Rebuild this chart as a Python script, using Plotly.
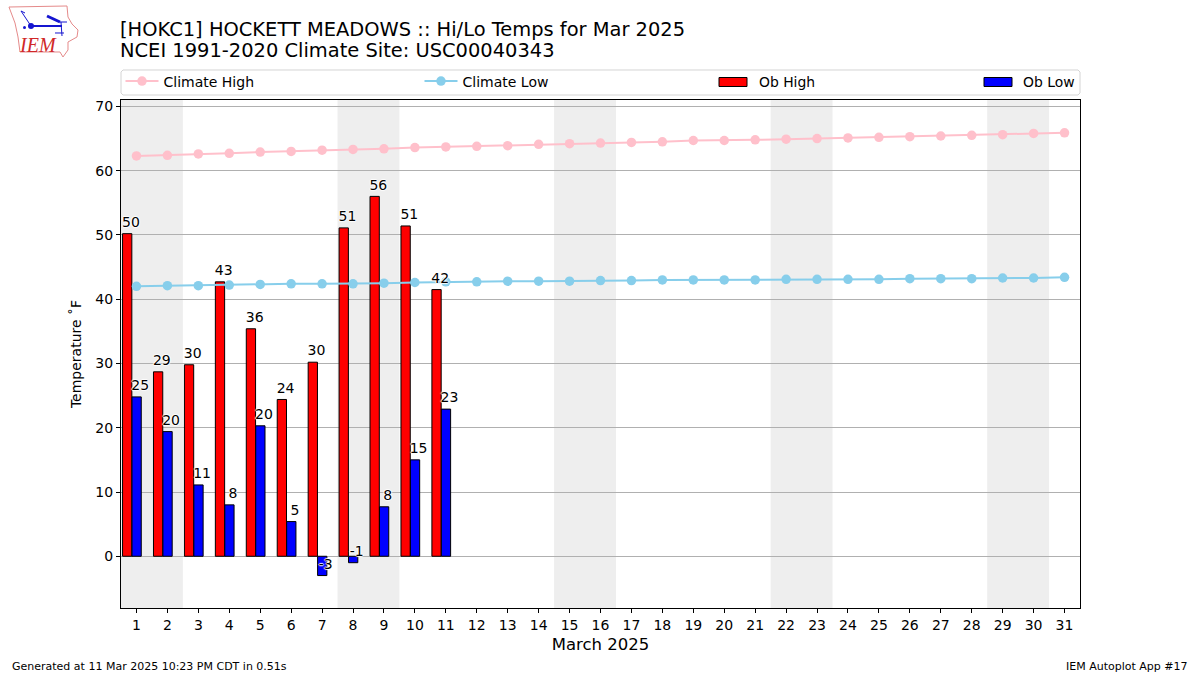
import plotly.graph_objects as go

days = list(range(1, 32))
obs_days = list(range(1, 12))
climate_high = [62.3,62.4,62.6,62.7,62.9,63.0,63.2,63.3,63.4,63.6,63.7,63.8,63.9,64.1,64.2,64.3,
                64.4,64.5,64.7,64.7,64.8,64.9,65.0,65.1,65.2,65.3,65.4,65.5,65.6,65.8,65.9]
climate_low = [42.0,42.1,42.1,42.2,42.3,42.4,42.4,42.4,42.5,42.6,42.7,42.7,42.8,42.8,42.8,42.9,
               42.9,43.0,43.0,43.0,43.0,43.1,43.1,43.1,43.1,43.2,43.2,43.2,43.3,43.3,43.4]
ob_high = [50.2,28.7,29.8,42.7,35.4,24.4,30.2,51.1,56.0,51.4,41.5]
ob_low = [24.8,19.4,11.1,8.0,20.3,5.4,-3.0,-1.0,7.7,15.0,22.9]
ob_high_labels = ["50","29","30","43","36","24","30","51","56","51","42"]
ob_low_labels = ["25","20","11","8","20","5","-3","-1","8","15","23"]
weekends = [(0.5,2.5),(7.5,9.5),(14.5,16.5),(21.5,23.5),(28.5,30.5)]

L, R, T, B = 121, 1080, 100, 608
FONT = "DejaVu Sans"
def px(x): return (x - L) / (R - L)
def py(y): return (B - y) / (B - T)
def path(points, close=False):
    s = "M" + " L".join(f"{px(a):.5f},{py(b):.5f}" for a, b in points)
    return s + (" Z" if close else "")

fig = go.Figure()
fig.add_trace(go.Scatter(x=days, y=climate_high, mode="lines+markers", name="Climate High",
                         line=dict(color="pink", width=2), marker=dict(color="pink", size=9.5), legend="legend"))
fig.add_trace(go.Scatter(x=days, y=climate_low, mode="lines+markers", name="Climate Low",
                         line=dict(color="skyblue", width=2), marker=dict(color="skyblue", size=9.5), legend="legend2"))
fig.add_trace(go.Bar(x=obs_days, y=ob_high, name="Ob High", width=0.3, offset=-0.45, showlegend=False,
                     marker=dict(color="red", line=dict(color="black", width=1))))
fig.add_trace(go.Bar(x=obs_days, y=ob_low, name="Ob Low", width=0.3, offset=-0.145, showlegend=False,
                     marker=dict(color="blue", line=dict(color="black", width=1))))
halo = "white 1px 0px 1px, white -1px 0px 1px, white 0px 1px 1px, white 0px -1px 1px"
fig.add_trace(go.Scatter(x=[d - 0.18 for d in obs_days], y=[v + 0.5 for v in ob_high], mode="text",
                         text=ob_high_labels, textposition="top center", showlegend=False,
                         textfont=dict(family=FONT, size=14, color="black", shadow=halo)))
fig.add_trace(go.Scatter(x=[d + 0.12 for d in obs_days], y=[v + 0.5 for v in ob_low], mode="text",
                         text=ob_low_labels, textposition="top center", showlegend=False,
                         textfont=dict(family=FONT, size=14, color="black", shadow=halo)))

shapes = [dict(type="rect", xref="x", yref="paper", x0=a, x1=b, y0=0, y1=1, fillcolor="#eeeeee",
               line_width=0, layer="below") for a, b in weekends]
# legend frame
shapes.append(dict(type="path", xref="paper", yref="paper", layer="above",
                   path=path([(123,70),(1078,70),(1080,72),(1080,93),(1078,95),(123,95),(121,93),(121,72)], True),
                   line=dict(color="#d4d4d4", width=1), fillcolor="white"))
# bar legend swatches
for x0, colour in [(719, "red"), (984, "blue")]:
    shapes.append(dict(type="rect", xref="paper", yref="paper", layer="above",
                       x0=px(x0), x1=px(x0 + 28), y0=py(86.5), y1=py(77.5),
                       fillcolor=colour, line=dict(color="black", width=1)))
# logo sketch
shapes.append(dict(type="path", xref="paper", yref="paper",
                   path=path([(9,7),(67,6),(68,17),(72,24),(78,30),(77,37),(68,42),(68,50),(63,57),
                              (60,52),(20,52),(18,37),(15,23)], True),
                   line=dict(color="#e58a8a", width=1), fillcolor="white"))
BLUE = "#1515d0"
for pts, w in [([(31,26),(62,26)],2), ([(21,11),(31,26)],1), ([(21,11),(25,13)],1), ([(47,16),(60,22)],3),
               ([(60,22),(67,22)],1), ([(61,22),(62,36)],1), ([(55,33),(64,33)],1)]:
    shapes.append(dict(type="path", xref="paper", yref="paper", path=path(pts), line=dict(color=BLUE, width=w)))
shapes.append(dict(type="circle", xref="paper", yref="paper", x0=px(28), x1=px(34), y0=py(29), y1=py(23),
                   fillcolor=BLUE, line_width=0))
shapes.append(dict(type="circle", xref="paper", yref="paper", x0=px(23), x1=px(26), y0=py(29), y1=py(26),
                   fillcolor=BLUE, line_width=0))

def note(text, x, y, size, anchor="left", family=FONT, color="black"):
    return dict(text=text, x=px(x), y=py(y), xref="paper", yref="paper", showarrow=False,
                font=dict(family=family, size=size, color=color), xanchor=anchor, yanchor="middle")

annotations = [
    note("<i>IEM</i>", 37.5, 45, 20, "center", "Liberation Serif", "#d02828"),
    note("NCEI 1991-2020 Climate Site: USC00040343", 118, 51, 19.45),
    note("Ob High", 757, 81.5, 13.9),
    note("Ob Low", 1021, 81.5, 13.9),
    note("Generated at 11 Mar 2025 10:23 PM CDT in 0.51s", 10, 666, 11),
    note("IEM Autoplot App #17", 1190, 666, 11, "right"),
]

def legend(x):
    return dict(x=px(x), y=py(81.5), xref="paper", yref="paper", xanchor="left", yanchor="middle",
                bgcolor="rgba(0,0,0,0)", borderwidth=0, font=dict(family=FONT, size=14, color="black"),
                itemwidth=33, tracegroupgap=0)

fig.update_layout(
    width=1200, height=675, autosize=False,
    margin=dict(l=L, r=1200 - R, t=T, b=675 - B, autoexpand=False),
    paper_bgcolor="white", plot_bgcolor="white",
    font=dict(family=FONT, size=14, color="black"),
    barmode="overlay",
    title=dict(text="[HOKC1] HOCKETT MEADOWS :: Hi/Lo Temps for Mar 2025",
               x=120 / 1200, xref="container", xanchor="left", y=1 - 29 / 675, yref="container", yanchor="middle",
               font=dict(family=FONT, size=19.45, color="black")),
    xaxis=dict(range=[0.5, 31.5], tickmode="array", tickvals=days, ticktext=[str(d) for d in days],
               showgrid=False, zeroline=False, showline=True, mirror=True, linecolor="black", linewidth=1,
               ticks="outside", ticklen=4, tickcolor="black", tickfont=dict(family=FONT, size=14),
               title=dict(text="March 2025", font=dict(family=FONT, size=16.5), standoff=6)),
    yaxis=dict(range=[-8.05, 71.0], tickmode="array", tickvals=list(range(0, 71, 10)),
               showgrid=True, gridcolor="#b0b0b0", gridwidth=1, zeroline=False,
               showline=True, mirror=True, linecolor="black", linewidth=1,
               ticks="outside", ticklen=4, tickcolor="black", tickfont=dict(family=FONT, size=14),
               title=dict(text="Temperature ˚F", font=dict(family=FONT, size=14), standoff=10)),
    shapes=shapes, annotations=annotations,
    legend=legend(120.5), legend2=legend(419.5),
    showlegend=True,
)
fig.write_html("out.html", config={"displayModeBar": False},
               post_script="document.body.style.margin='0';document.documentElement.style.margin='0';")
